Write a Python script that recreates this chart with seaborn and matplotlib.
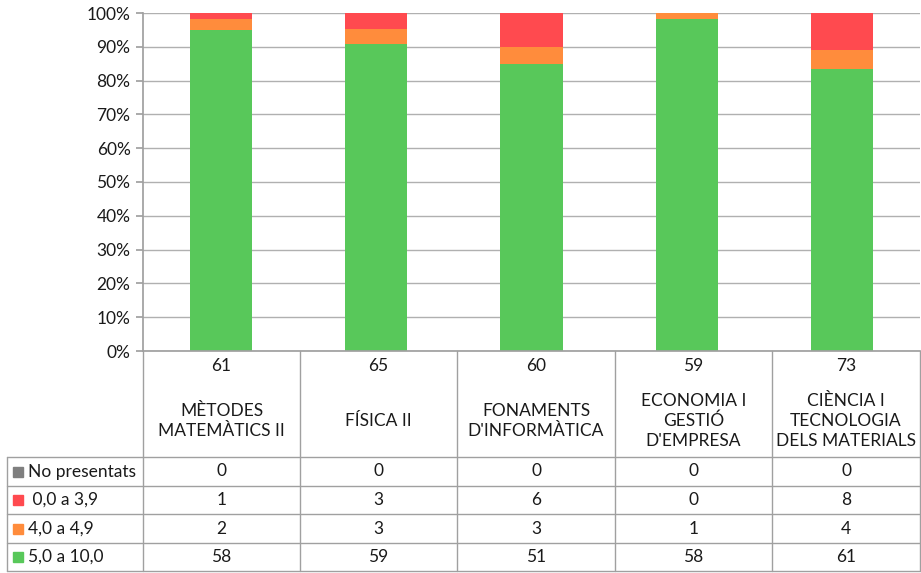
import matplotlib
matplotlib.use("Agg")
import matplotlib.pyplot as plt
from matplotlib.lines import Line2D
from matplotlib.patches import Rectangle
import seaborn as sns
import numpy as np

# Data
subjects = ["MÈTODES\nMATEMÀTICS II", "FÍSICA II", "FONAMENTS\nD'INFORMÀTICA",
            "ECONOMIA I\nGESTIÓ\nD'EMPRESA", "CIÈNCIA I\nTECNOLOGIA\nDELS MATERIALS"]
series_names = ["No presentats", " 0,0 a 3,9", "4,0 a 4,9", "5,0 a 10,0"]
no_presentats = [0, 0, 0, 0, 0]
suspens = [1, 3, 6, 0, 8]
gap = [2, 3, 3, 1, 4]
aprovats = [58, 59, 51, 58, 61]
colors = ["#7F7F7F", "#FF4A4F", "#FF8C3C", "#58C85A"]

totals = [a + b + c + d for a, b, c, d in zip(no_presentats, suspens, gap, aprovats)]

sns.set_theme(style="white")
plt.rcParams['font.family'] = ['Lato', 'DejaVu Sans']

W, H = 921, 573
fig = plt.figure(figsize=(W / 100, H / 100), dpi=100)

x0, x1 = 143, 920
y_top, y_bot = 13, 351
ax = fig.add_axes([x0 / W, 1 - y_bot / H, (x1 - x0) / W, (y_bot - y_top) / H])

# stacked 100% bars, bottom to top: green, orange, red, grey
stack = [(aprovats, colors[3]), (gap, colors[2]), (suspens, colors[1]), (no_presentats, colors[0])]
bottom = np.zeros(len(subjects))
xs = np.arange(len(subjects))
for vals, col in stack:
    pct = np.array(vals) / np.array(totals) * 100
    sns.barplot(x=xs, y=pct, bottom=bottom, color=col, width=0.4,
                saturation=1, ax=ax, native_scale=True, linewidth=0)
    bottom += pct

fs = 12.5
ax.set_xlim(-0.5, len(subjects) - 0.5)
ax.set_ylim(0, 100)
ax.set_yticks(range(0, 101, 10))
ax.set_yticklabels([f"{v}%" for v in range(0, 101, 10)], fontsize=fs, color="#1A1A1A")
ax.set_xticks([])
ax.set_xlabel("")
ax.set_ylabel("")
ax.yaxis.grid(True, color="#B0B0B0", linewidth=1)
ax.set_axisbelow(True)
for s in ["top", "right"]:
    ax.spines[s].set_visible(False)
ax.spines["left"].set_color("#A0A0A0")
ax.spines["bottom"].set_color("#A0A0A0")
ax.tick_params(axis="y", length=5, color="#A0A0A0", left=True, pad=4)

# table below the chart, drawn in pixel coordinates
def px(x, y):
    return x / W, 1 - y / H

line_col = "#A0A0A0"
col_edges = [143, 300, 457, 615, 772, 920]
row_edges = [457, 486, 514, 543, 571]

def hline(y, xa, xb):
    fig.add_artist(Line2D([xa / W, xb / W], [1 - y / H, 1 - y / H], color=line_col, lw=1))

def vline(x, ya, yb):
    fig.add_artist(Line2D([x / W, x / W], [1 - ya / H, 1 - yb / H], color=line_col, lw=1))

for y in row_edges:
    hline(y, 7, 920)
for x in col_edges[:-1]:
    vline(x, 351, 571)
vline(7, 457, 571)
vline(920, 351, 571)

txt = "#1A1A1A"
for i, name in enumerate(subjects):
    cx = (col_edges[i] + col_edges[i + 1]) / 2
    fig.text(*px(cx, 366), str(totals[i]), ha="center", va="center", fontsize=fs, color=txt)
    fig.text(*px(cx, 421), name, ha="center", va="center", fontsize=fs, color=txt,
             linespacing=1.3)

table_rows = [no_presentats, suspens, gap, aprovats]
for r, (name, vals, col) in enumerate(zip(series_names, table_rows, colors)):
    cy = (row_edges[r] + row_edges[r + 1]) / 2
    fig.add_artist(Rectangle(px(13, cy + 5), 10 / W, 10 / H, color=col, transform=fig.transFigure))
    fig.text(*px(28, cy), name, ha="left", va="center", fontsize=fs, color=txt)
    for i, v in enumerate(vals):
        cx = (col_edges[i] + col_edges[i + 1]) / 2
        fig.text(*px(cx, cy), str(v), ha="center", va="center", fontsize=fs, color=txt)

fig.savefig("out.png", dpi=100)
